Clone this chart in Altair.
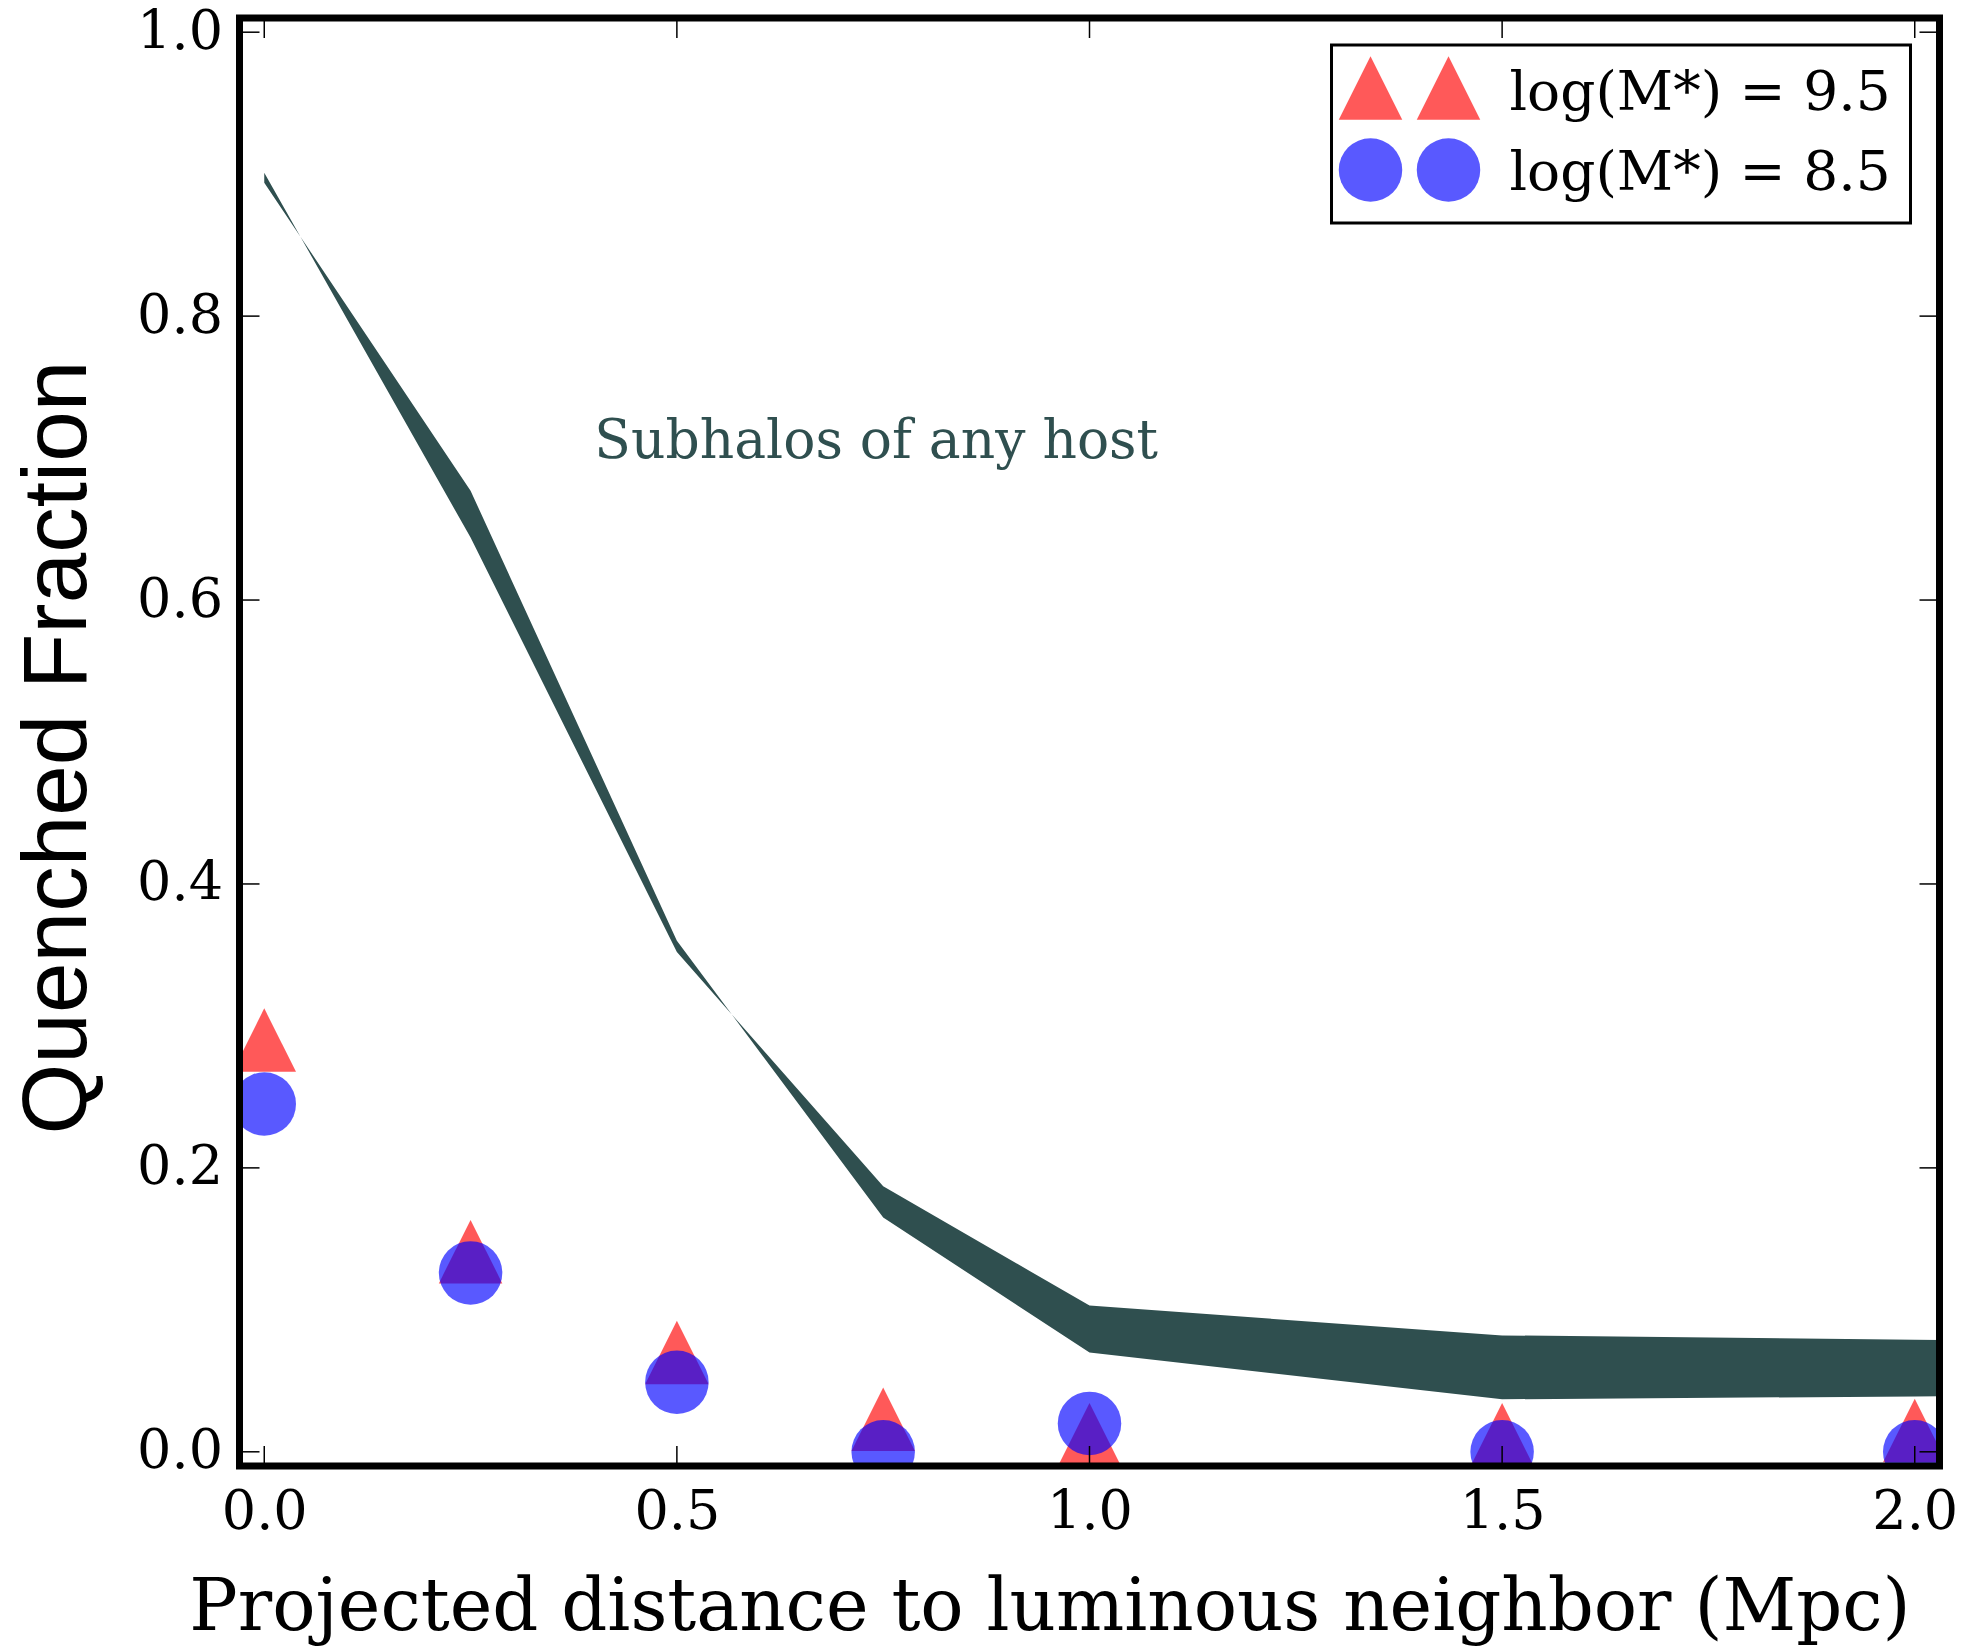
import altair as alt
import pandas as pd

# Subhalo quenched-fraction band: two bounding curves sampled on distance bins (Mpc)
band_x = [0.0, 0.25, 0.5, 0.75, 1.0, 1.5, 2.0, 2.5]
band_a = [0.901, 0.644, 0.352, 0.187, 0.103, 0.082, 0.079, 0.076]
band_b = [0.894, 0.677, 0.360, 0.165, 0.070, 0.037, 0.039, 0.041]

# Observed quenched fractions per distance bin
dist = [0.0, 0.25, 0.5, 0.75, 1.0, 1.5, 2.0]
q_mass95 = [0.290, 0.141, 0.070, 0.023, 0.012, 0.012, 0.015]
q_mass85 = [0.245, 0.126, 0.049, 0.0, 0.020, 0.0, 0.0]

x_ticks = [0.0, 0.5, 1.0, 1.5, 2.0]
y_ticks = [0.0, 0.2, 0.4, 0.6, 0.8, 1.0]

series_labels = ["log(M*) = 9.5", "log(M*) = 8.5"]
band_label = "Subhalos of any host"
band_label_pos = (0.4, 0.7)

SERIF = "DejaVu Serif"
SANS = "Liberation Sans"
BAND_COLOR = "#2F4F4F"
W, H = 1700, 1448
TICK = 20
MARK_SIZE = 4032
TRI = "M0,-1L1,1L-1,1Z"

band_df = pd.DataFrame({"x": band_x, "a": band_a, "b": band_b})
pts_df = pd.DataFrame({"x": dist, "q95": q_mass95, "q85": q_mass85})
xt_df = pd.DataFrame({"t": x_ticks})
yt_df = pd.DataFrame({"t": y_ticks})
one = alt.Data(values=[{}])

X_SCALE = alt.Scale(domain=[-0.03, 2.03], nice=False, zero=False)
Y_SCALE = alt.Scale(domain=[-0.01, 1.01], nice=False, zero=False)

X_AXIS = alt.Axis(
    values=x_ticks, format=".1f", labelFont=SERIF, labelFontSize=54,
    labelColor="black", labelPadding=46, labelBaseline="middle",
    labelFlush=False, domain=False, ticks=False, tickSize=0, grid=False,
    title="Projected distance to luminous neighbor (Mpc)", titleFont=SERIF,
    titleFontSize=72, titleFontWeight="normal", titleColor="black",
    titleX=810, titleY=141, titleAlign="center", titleBaseline="middle",
)
Y_AXIS = alt.Axis(
    values=y_ticks, format=".1f", labelFont=SERIF, labelFontSize=54,
    labelColor="black", labelPadding=17, labelBaseline="middle",
    labelFlush=False, domain=False, ticks=False, tickSize=0, grid=False,
    title="Quenched Fraction", titleFont=SANS, titleFontSize=91,
    titleFontWeight="normal", titleColor="black", titleAngle=270,
    titleX=-181, titleY=H / 2 + 5, titleAlign="center", titleBaseline="middle",
)


def xq(field):
    return alt.X(field, type="quantitative", scale=X_SCALE, axis=X_AXIS)


def yq(field):
    return alt.Y(field, type="quantitative", scale=Y_SCALE, axis=Y_AXIS)


band = alt.Chart(band_df).mark_area(color=BAND_COLOR, opacity=1, clip=True).encode(
    x=xq("x"), y=yq("a"), y2=alt.Y2("b")
)

tri = alt.Chart(pts_df).mark_point(
    shape=TRI, filled=True, size=MARK_SIZE, color="red", opacity=0.65,
    strokeWidth=0, clip=True,
).encode(x=xq("x"), y=yq("q95"))

circ = alt.Chart(pts_df).mark_point(
    shape="circle", filled=True, size=MARK_SIZE, color="blue", opacity=0.65,
    strokeWidth=0, clip=True,
).encode(x=xq("x"), y=yq("q85"))

annot = alt.Chart(one).mark_text(
    text=band_label, font=SERIF, fontSize=53.5, color=BAND_COLOR,
    align="left", baseline="alphabetic",
).encode(x=alt.datum(band_label_pos[0], scale=X_SCALE),
         y=alt.datum(band_label_pos[1], scale=Y_SCALE))

# Inward-pointing ticks on all four sides
tick_style = dict(color="black", strokeWidth=1.5)
bottom_ticks = alt.Chart(xt_df).mark_rule(**tick_style).encode(
    x=xq("t"), y=alt.value(H), y2=alt.value(H - TICK))
top_ticks = alt.Chart(xt_df).mark_rule(**tick_style).encode(
    x=xq("t"), y=alt.value(0), y2=alt.value(TICK))
left_ticks = alt.Chart(yt_df).mark_rule(**tick_style).encode(
    y=yq("t"), x=alt.value(0), x2=alt.value(TICK))
right_ticks = alt.Chart(yt_df).mark_rule(**tick_style).encode(
    y=yq("t"), x=alt.value(W), x2=alt.value(W - TICK))

# Legend box with two sample markers per entry
legend_box = alt.Chart(one).mark_rect(
    fill="white", stroke="black", strokeWidth=3
).encode(x=alt.value(1092), x2=alt.value(1671), y=alt.value(27), y2=alt.value(205))

legend_layers = [legend_box]
for lx in (1131, 1209):
    legend_layers.append(alt.Chart(one).mark_point(
        shape=TRI, filled=True, size=MARK_SIZE, color="red", opacity=0.65, strokeWidth=0,
    ).encode(x=alt.value(lx), y=alt.value(70)))
    legend_layers.append(alt.Chart(one).mark_point(
        shape="circle", filled=True, size=MARK_SIZE, color="blue", opacity=0.65, strokeWidth=0,
    ).encode(x=alt.value(lx), y=alt.value(152)))
for label, ly in zip(series_labels, (92, 172)):
    legend_layers.append(alt.Chart(one).mark_text(
        text=label, font=SERIF, fontSize=55, color="black",
        align="left", baseline="alphabetic",
    ).encode(x=alt.value(1270), y=alt.value(ly)))

frame = alt.Chart(one).mark_rect(
    filled=False, stroke="black", strokeWidth=7
).encode(x=alt.value(0), x2=alt.value(W), y=alt.value(0), y2=alt.value(H))

chart = alt.layer(
    band, tri, circ, annot,
    bottom_ticks, top_ticks, left_ticks, right_ticks,
    *legend_layers, frame,
).properties(
    width=W, height=H,
    autosize=alt.AutoSizeParams(type="none"),
    padding={"left": 239.5, "top": 18, "right": 32.5, "bottom": 182},
    background="white",
).configure_view(stroke="transparent")

chart.save("out.html", embed_options={"renderer": "svg", "actions": False})
